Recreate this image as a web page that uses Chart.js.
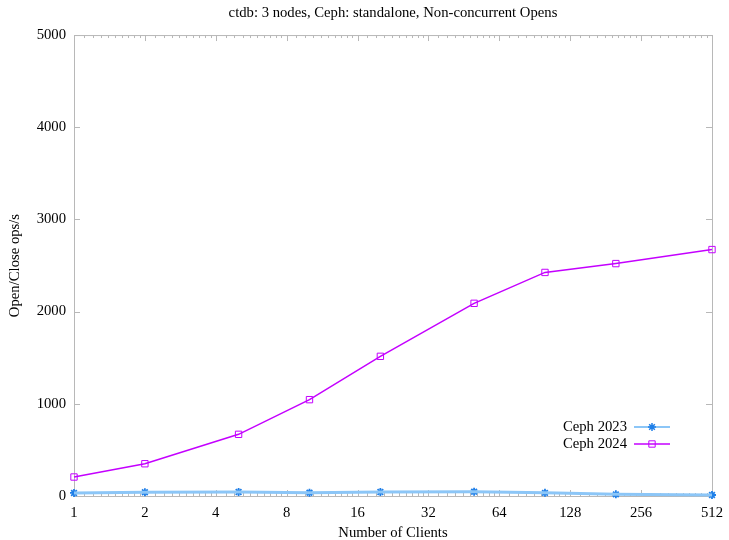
<!DOCTYPE html>
<html>
<head>
<meta charset="utf-8">
<title>ctdb: 3 nodes, Ceph: standalone, Non-concurrent Opens</title>
<script src="https://cdn.jsdelivr.net/npm/chart.js@4/dist/chart.umd.min.js"></script>
<style>
  body { margin: 0; background: #fff; }
  canvas { display: block; }
</style>
</head>
<body>
<canvas id="opens" width="729" height="540"></canvas>
<script>
// values
const clients = [1, 2, 5, 10, 20, 50, 100, 200, 512];
const ceph2023 = [33, 40, 43, 36, 43, 47, 34, 18, 11];
const ceph2024 = [206, 350, 669, 1045, 1515, 2090, 2425, 2521, 2673];
const xTicks = [1, 2, 4, 8, 16, 32, 64, 128, 256, 512];
const yTicks = [0, 1000, 2000, 3000, 4000, 5000];

const serif = "'Liberation Serif', 'DejaVu Serif', serif";
const fs = 14.7;
const blueLight = "#8cc6f7";
const blue = "#1f7fe8";
const violet = "#c400ff";
const frameColor = "#b8b8b8";

// gnuplot-like inward tics + border
const frame = {
    id: 'frame',
    beforeDatasetsDraw(chart) {
        const { ctx, chartArea: a, scales } = chart;
        ctx.save();
        ctx.strokeStyle = frameColor;
        ctx.lineWidth = 1;
        ctx.strokeRect(a.left + 0.5, a.top + 0.5, a.right - a.left, a.bottom - a.top);
        ctx.beginPath();
        xTicks.forEach((v, i) => {
            const px = Math.round(scales.x.getPixelForValue(v)) + 0.5;
            ctx.moveTo(px, a.bottom); ctx.lineTo(px, a.bottom - 6);
            ctx.moveTo(px, a.top); ctx.lineTo(px, a.top + 6);
            if (i < xTicks.length - 1) {
                for (let k = 1; k < 10; k++) {
                    const m = Math.round(scales.x.getPixelForValue(v * (1 + k / 10))) + 0.5;
                    ctx.moveTo(m, a.bottom); ctx.lineTo(m, a.bottom - 3);
                    ctx.moveTo(m, a.top); ctx.lineTo(m, a.top + 3);
                }
            }
        });
        yTicks.forEach(v => {
            const py = Math.round(scales.y.getPixelForValue(v)) + 0.5;
            ctx.moveTo(a.left, py); ctx.lineTo(a.left + 6, py);
            ctx.moveTo(a.right, py); ctx.lineTo(a.right - 6, py);
        });
        ctx.stroke();
        ctx.restore();
    }
};

// key in the lower right, text then sample
const key = {
    id: 'key',
    afterDraw(chart) {
        const { ctx } = chart;
        const rows = [
            { label: "Ceph 2023", line: blueLight, width: 2, point: { pointStyle: 'star', radius: 4, borderWidth: 1.5 }, pc: blue },
            { label: "Ceph 2024", line: violet, width: 1.5, point: { pointStyle: 'rect', radius: 4.5, borderWidth: 1 }, pc: violet }
        ];
        ctx.save();
        ctx.font = fs + "px " + serif;
        ctx.textAlign = 'right';
        ctx.textBaseline = 'middle';
        rows.forEach((r, i) => {
            const y = 427 + i * 17;
            ctx.fillStyle = "#000";
            ctx.fillText(r.label, 627, y);
            ctx.strokeStyle = r.line;
            ctx.lineWidth = r.width;
            ctx.beginPath();
            ctx.moveTo(634, y); ctx.lineTo(670, y);
            ctx.stroke();
            ctx.strokeStyle = r.pc;
            ctx.fillStyle = 'rgba(0,0,0,0)';
            ctx.lineWidth = r.point.borderWidth;
            Chart.helpers.drawPoint(ctx, r.point, 652, y);
        });
        ctx.restore();
    }
};

const toPoints = ys => clients.map((c, i) => ({ x: c, y: ys[i] }));

new Chart(document.getElementById('opens').getContext('2d'), {
    type: 'line',
    data: {
        datasets: [
            {
                label: "Ceph 2023 (halo)",
                data: toPoints(ceph2023),
                borderColor: blueLight,
                borderWidth: 3,
                pointRadius: 0,
                clip: false,
            }, {
                label: "Ceph 2023",
                data: toPoints(ceph2023),
                borderColor: blue,
                borderWidth: 1,
                pointStyle: 'star',
                pointRadius: 4,
                pointBorderWidth: 1.8,
                pointBorderColor: blue,
                clip: false,
            }, {
                label: "Ceph 2024",
                data: toPoints(ceph2024),
                borderColor: violet,
                borderWidth: 1.5,
                pointStyle: 'rect',
                pointRadius: 4.5,
                pointBorderWidth: 1,
                pointBorderColor: violet,
                pointBackgroundColor: 'rgba(0,0,0,0)',
                clip: false,
            }]
    },
    options: {
        responsive: false,
        animation: false,
        events: [],
        layout: { padding: { left: 0, right: 17, top: 0, bottom: 0 } },
        plugins: {
            legend: { display: false },
            tooltip: { enabled: false },
            title: {
                display: true,
                fullSize: false,
                text: "ctdb: 3 nodes, Ceph: standalone, Non-concurrent Opens",
                color: "#000",
                font: { family: serif, size: fs, weight: 'normal' },
                padding: { top: 4, bottom: 13.4 }
            }
        },
        scales: {
            x: {
                type: 'logarithmic',
                min: 1,
                max: 512,
                afterBuildTicks: axis => { axis.ticks = xTicks.map(v => ({ value: v })); },
                afterFit: axis => { axis.height = 44; },
                grid: { display: false },
                border: { display: false },
                ticks: {
                    color: "#000",
                    font: { family: serif, size: fs },
                    padding: 0,
                    maxRotation: 0,
                    autoSkip: false,
                    callback: v => String(v)
                },
                title: {
                    display: true,
                    text: "Number of Clients",
                    color: "#000",
                    font: { family: serif, size: fs },
                    padding: { top: 0, bottom: -2 }
                }
            },
            y: {
                min: 0,
                max: 5000,
                afterBuildTicks: axis => { axis.ticks = yTicks.map(v => ({ value: v })); },
                afterFit: axis => { axis.width = 74; },
                grid: { display: false },
                border: { display: false },
                ticks: {
                    color: "#000",
                    font: { family: serif, size: fs },
                    padding: 0,
                    callback: v => String(v)
                },
                title: {
                    display: true,
                    text: "Open/Close ops/s",
                    color: "#000",
                    font: { family: serif, size: fs },
                    padding: { top: 6, bottom: 0 }
                }
            }
        }
    },
    plugins: [frame, key]
});
</script>
</body>
</html>
